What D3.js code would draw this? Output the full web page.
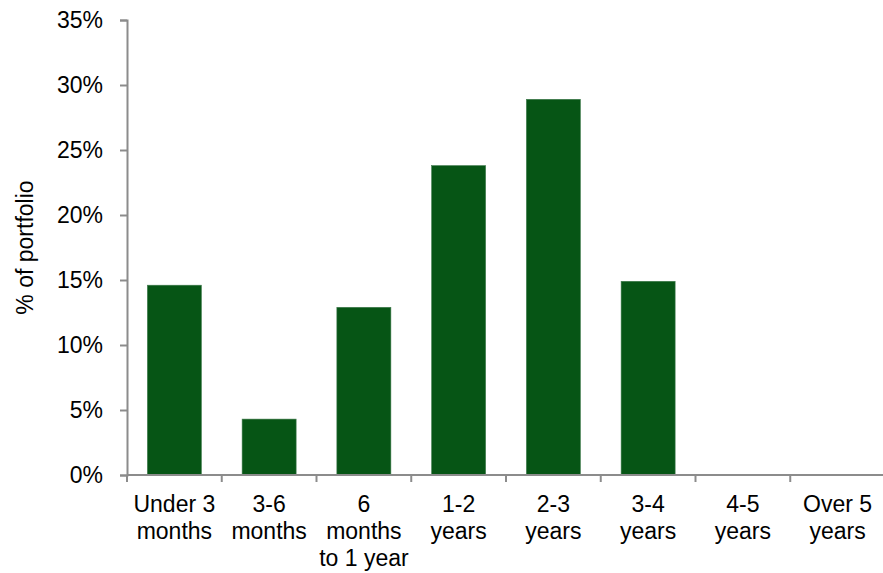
<!DOCTYPE html>
<html>
<head>
<meta charset="utf-8">
<script src="https://cdn.jsdelivr.net/npm/d3@7"></script>
<style>
  body { margin: 0; background: #fff; }
  svg text { font-family: "Liberation Sans", Arial, sans-serif; fill: #000; }
</style>
</head>
<body>
<svg width="883" height="573"></svg>
<script>
let categories = ["Under 3 months", "3-6 months", "6 months to 1 year", "1-2 years", "2-3 years", "3-4 years", "4-5 years", "Over 5 years"]
let labelLines = [["Under 3", "months"], ["3-6", "months"], ["6", "months", "to 1 year"], ["1-2", "years"], ["2-3", "years"], ["3-4", "years"], ["4-5", "years"], ["Over 5", "years"]]
let values = [14.6, 4.3, 12.9, 23.8, 28.9, 14.9, 0, 0]
let yTicks = [0, 5, 10, 15, 20, 25, 30, 35]

let margin = { top: 20, right: -2, bottom: 98, left: 127 },
    width = 883 - margin.left - margin.right,
    height = 573 - margin.top - margin.bottom

let x = d3.scaleBand().domain(categories).range([0, width]).paddingInner(0.43).paddingOuter(0.215)
let y = d3.scaleLinear().domain([0, 35]).range([height, 0])

let svg = d3.select("svg")
let g = svg.append("g")
    .attr("transform", "translate(" + margin.left + "," + margin.top + ")")

g.selectAll(".bar")
    .data(values)
    .enter().append("rect")
    .attr("class", "bar")
    .attr("x", (d, i) => x(categories[i]))
    .attr("y", d => y(d))
    .attr("width", x.bandwidth())
    .attr("height", d => height - y(d))
    .attr("fill", "#065515")
    .attr("stroke", d => d > 0 ? "#3f7a4c" : "none")
    .attr("stroke-width", 0.6)

// y axis
let yAxis = g.append("g")
    .call(d3.axisLeft(y).tickValues(yTicks).tickFormat(d => d + "%").tickSize(7).tickPadding(17))
yAxis.select(".domain").attr("stroke", "#8c8c8c").attr("stroke-width", 2)
yAxis.selectAll(".tick line").attr("stroke", "#8c8c8c").attr("stroke-width", 2)
yAxis.selectAll(".tick text").style("font-size", "23px").attr("fill", "#000")

// x axis with boundary ticks
let xg = g.append("g").attr("transform", "translate(0," + height + ")")
xg.append("line")
    .attr("x1", 0).attr("x2", width)
    .attr("stroke", "#8c8c8c").attr("stroke-width", 2)
let step = x.step()
let bounds = d3.range(categories.length + 1).map(i => x(categories[0]) - x.paddingOuter() * step + i * step)
xg.selectAll(".xtick")
    .data(bounds)
    .enter().append("line")
    .attr("x1", d => d).attr("x2", d => d)
    .attr("y1", 0).attr("y2", 7)
    .attr("stroke", "#8c8c8c").attr("stroke-width", 2)

xg.selectAll(".xlabel")
    .data(categories)
    .enter().append("text")
    .attr("text-anchor", "middle")
    .attr("transform", d => "translate(" + (x(d) + x.bandwidth() / 2) + ",37)")
    .style("font-size", "23px")
    .each(function (d, i) {
        d3.select(this).selectAll("tspan")
            .data(labelLines[i])
            .enter().append("tspan")
            .attr("x", 0)
            .attr("y", (t, j) => j * 27)
            .text(t => t)
    })

svg.append("text")
    .attr("transform", "translate(33," + (margin.top + height / 2) + ") rotate(-90)")
    .attr("text-anchor", "middle")
    .style("font-size", "23px")
    .text("% of portfolio")
</script>
</body>
</html>
